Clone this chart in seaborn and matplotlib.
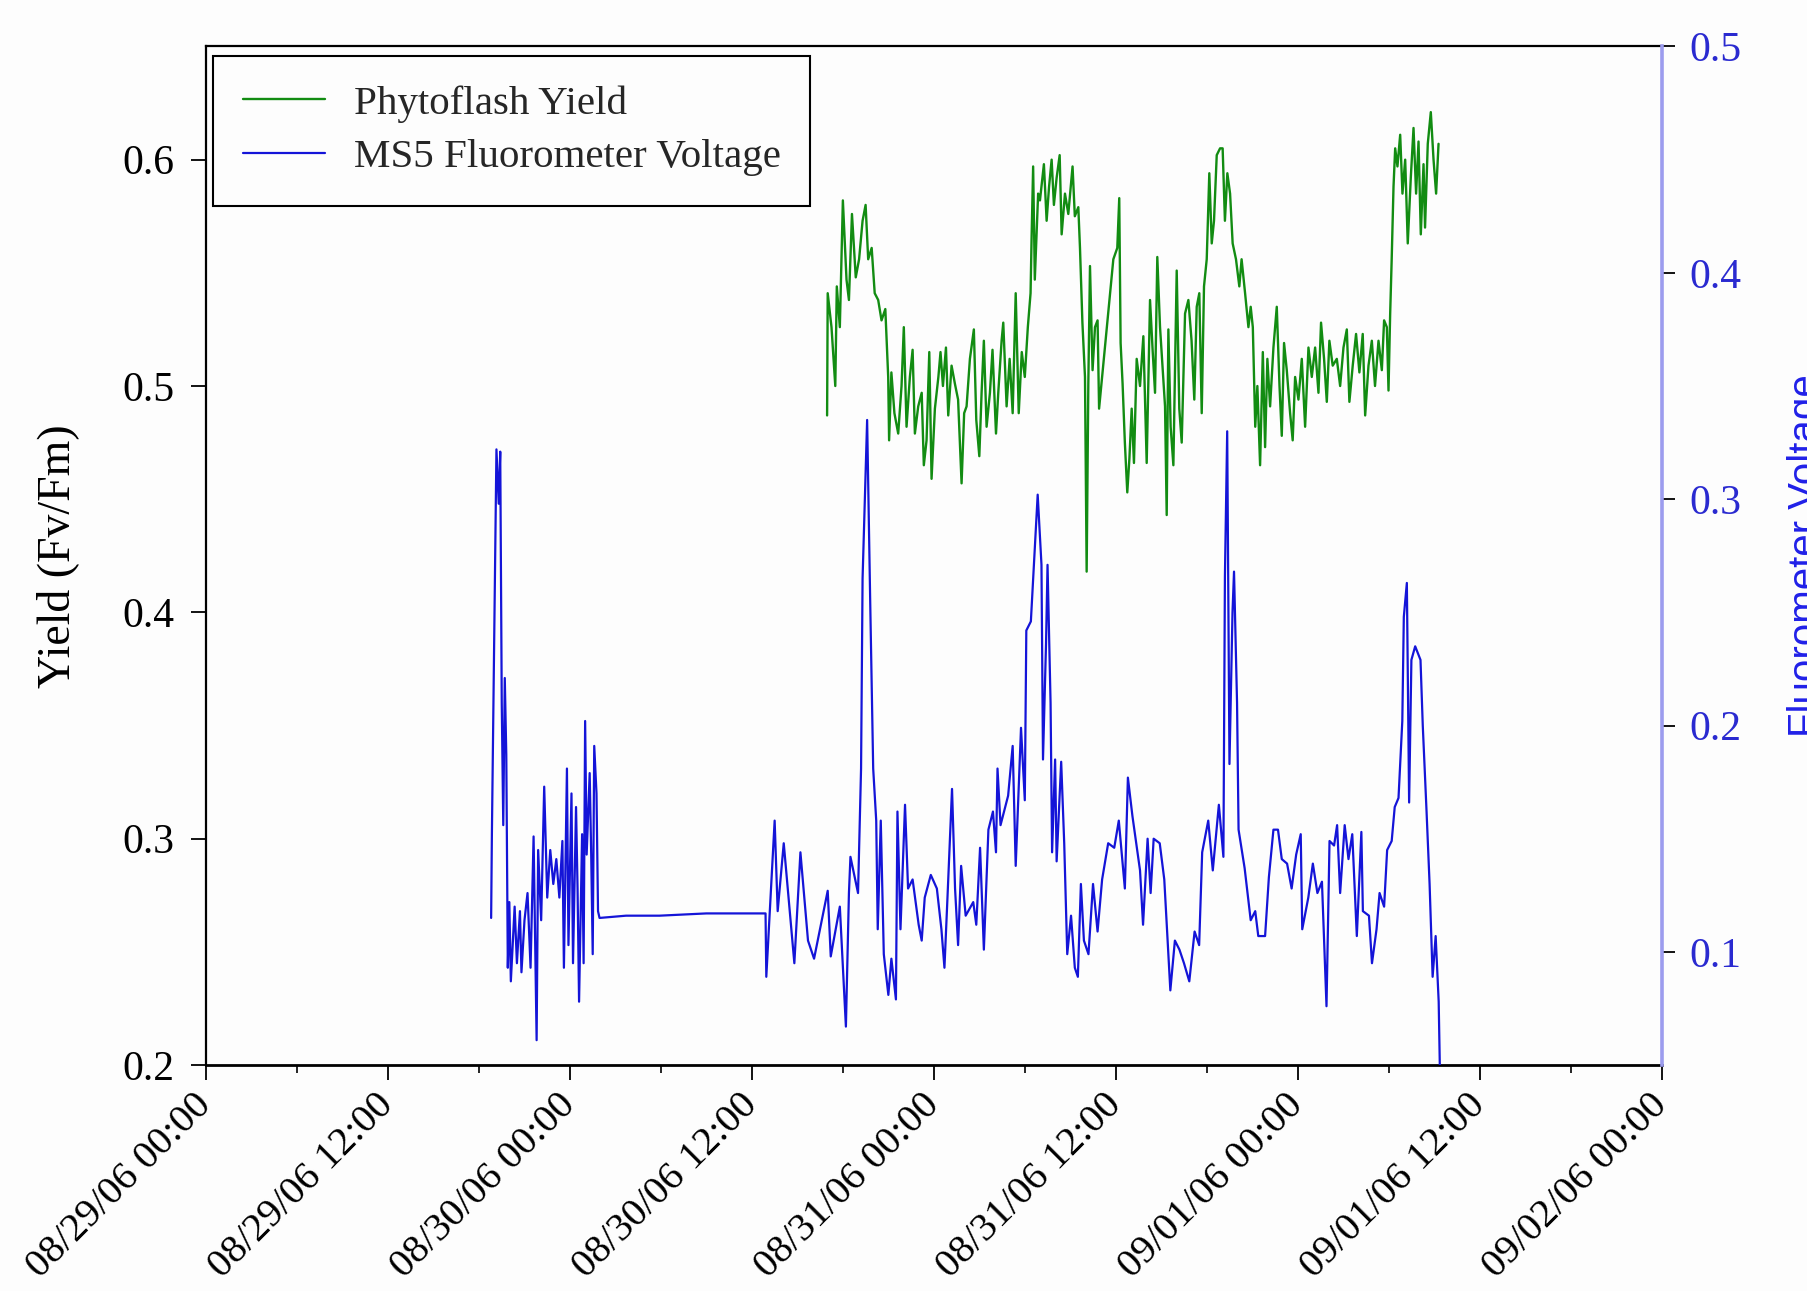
import numpy as np
import pandas as pd
import matplotlib
matplotlib.use("Agg")
import matplotlib.pyplot as plt
import matplotlib.dates as mdates
import seaborn as sns

# ---------------- data (hours after 08/29/06 00:00) ----------------
yield_hours = [
    40.96, 41.00, 41.25, 41.50, 41.60, 41.80, 42.00, 42.24, 42.40, 42.60, 42.85, 43.07,
    43.30, 43.50, 43.67, 43.90, 44.10, 44.33, 44.55, 44.80, 44.99, 45.05, 45.20, 45.40,
    45.65, 45.87, 46.02, 46.20, 46.42, 46.60, 46.75, 46.97, 47.20, 47.34, 47.52, 47.70,
    47.85, 48.07, 48.30, 48.44, 48.60, 48.80, 48.95, 49.17, 49.39, 49.60, 49.83, 50.00,
    50.16, 50.38, 50.64, 50.80, 51.00, 51.15, 51.30, 51.48, 51.70, 51.87, 52.10, 52.25,
    52.47, 52.58, 52.80, 53.00, 53.20, 53.40, 53.60, 53.80, 54.00, 54.20, 54.38, 54.45,
    54.55, 54.66, 54.88, 55.00, 55.26, 55.44, 55.60, 55.77, 55.92, 56.10, 56.30, 56.43,
    56.65, 56.87, 57.15, 57.30, 57.53, 57.64, 57.80, 57.97, 58.08, 58.19, 58.30, 58.47,
    58.63, 58.80, 58.90, 59.84, 60.10, 60.23, 60.32, 60.45, 60.60, 60.76, 60.90, 61.05,
    61.20, 61.38, 61.60, 61.82, 62.04, 62.26, 62.43, 62.59, 62.74, 62.92, 63.10, 63.25,
    63.36, 63.47, 63.62, 63.80, 64.02, 64.19, 64.35, 64.57, 64.79, 65.00, 65.18, 65.34,
    65.51, 65.67, 65.82, 66.00, 66.17, 66.33, 66.48, 66.66, 66.88, 67.05, 67.20, 67.36,
    67.54, 67.71, 67.93, 68.15, 68.30, 68.53, 68.75, 68.90, 69.04, 69.20, 69.34, 69.52,
    69.70, 69.85, 70.00, 70.18, 70.40, 70.62, 70.80, 70.95, 71.10, 71.28, 71.50, 71.67,
    71.83, 72.05, 72.27, 72.49, 72.71, 72.93, 73.15, 73.37, 73.54, 73.74, 73.92, 74.09,
    74.31, 74.58, 74.80, 75.02, 75.24, 75.41, 75.63, 75.85, 76.07, 76.29, 76.45, 76.67,
    76.89, 77.10, 77.33, 77.55, 77.70, 77.88, 77.99, 78.10, 78.20, 78.32, 78.43, 78.58,
    78.76, 78.91, 79.09, 79.26, 79.46, 79.64, 79.81, 79.97, 80.12, 80.30, 80.40, 80.58,
    80.78, 80.96, 81.13, 81.29,
]
yield_values = [
    0.487, 0.541, 0.526, 0.500, 0.544, 0.526, 0.582, 0.547, 0.538, 0.576, 0.548, 0.556,
    0.573, 0.580, 0.556, 0.561, 0.541, 0.538, 0.529, 0.534, 0.504, 0.476, 0.506, 0.488,
    0.479, 0.500, 0.526, 0.482, 0.504, 0.516, 0.479, 0.491, 0.497, 0.465, 0.476, 0.515,
    0.459, 0.490, 0.504, 0.515, 0.500, 0.517, 0.487, 0.509, 0.501, 0.494, 0.457, 0.488,
    0.491, 0.512, 0.525, 0.485, 0.469, 0.497, 0.520, 0.482, 0.497, 0.516, 0.479, 0.497,
    0.520, 0.528, 0.491, 0.512, 0.488, 0.541, 0.488, 0.515, 0.504, 0.526, 0.541, 0.566,
    0.597, 0.547, 0.585, 0.582, 0.598, 0.573, 0.588, 0.600, 0.580, 0.592, 0.602, 0.567,
    0.585, 0.576, 0.597, 0.575, 0.579, 0.561, 0.528, 0.504, 0.418, 0.501, 0.553, 0.507,
    0.526, 0.529, 0.490, 0.556, 0.561, 0.583, 0.519, 0.501, 0.475, 0.453, 0.468, 0.490,
    0.466, 0.512, 0.500, 0.522, 0.466, 0.538, 0.516, 0.497, 0.557, 0.526, 0.507, 0.491,
    0.443, 0.525, 0.482, 0.465, 0.551, 0.490, 0.475, 0.532, 0.538, 0.520, 0.494, 0.535,
    0.541, 0.488, 0.544, 0.556, 0.594, 0.563, 0.573, 0.602, 0.605, 0.605, 0.573, 0.594,
    0.585, 0.563, 0.556, 0.544, 0.556, 0.541, 0.526, 0.535, 0.526, 0.482, 0.500, 0.465,
    0.515, 0.473, 0.512, 0.491, 0.517, 0.535, 0.500, 0.478, 0.519, 0.507, 0.488, 0.476,
    0.504, 0.494, 0.512, 0.482, 0.517, 0.504, 0.517, 0.497, 0.528, 0.512, 0.493, 0.520,
    0.509, 0.512, 0.500, 0.517, 0.525, 0.493, 0.509, 0.523, 0.506, 0.523, 0.487, 0.509,
    0.520, 0.500, 0.520, 0.507, 0.529, 0.526, 0.498, 0.532, 0.556, 0.588, 0.605, 0.597,
    0.611, 0.585, 0.600, 0.563, 0.592, 0.614, 0.585, 0.608, 0.567, 0.598, 0.570, 0.607,
    0.621, 0.600, 0.585, 0.607,
]

volt_hours = [
    18.80, 18.85, 19.00, 19.15, 19.30, 19.40, 19.50, 19.60, 19.70, 19.80, 19.90, 20.00,
    20.10, 20.35, 20.50, 20.70, 20.80, 21.00, 21.20, 21.40, 21.60, 21.80, 21.90, 22.10,
    22.30, 22.50, 22.70, 22.90, 23.10, 23.30, 23.50, 23.60, 23.80, 23.90, 24.10, 24.20,
    24.40, 24.50, 24.60, 24.80, 24.90, 25.00, 25.10, 25.30, 25.40, 25.50, 25.60, 25.75,
    25.85, 25.95, 27.70, 29.90, 33.00, 36.90, 36.95, 37.50, 37.70, 38.10, 38.80, 39.20,
    39.70, 40.10, 41.00, 41.20, 41.80, 42.20, 42.40, 42.50, 43.00, 43.20, 43.30, 43.60,
    43.80, 44.00, 44.20, 44.30, 44.50, 44.70, 45.00, 45.20, 45.50, 45.60, 45.80, 46.10,
    46.30, 46.60, 47.00, 47.20, 47.40, 47.80, 48.20, 48.50, 48.70, 48.90, 49.20, 49.40,
    49.60, 49.80, 50.10, 50.60, 50.80, 51.05, 51.30, 51.60, 51.90, 52.10, 52.20, 52.40,
    52.90, 53.20, 53.40, 53.75, 54.00, 54.10, 54.40, 54.60, 54.85, 55.10, 55.20, 55.40,
    55.50, 55.70, 55.80, 56.00, 56.10, 56.40, 56.60, 56.80, 57.05, 57.30, 57.50, 57.70,
    57.90, 58.20, 58.50, 58.80, 59.10, 59.50, 59.90, 60.20, 60.60, 60.80, 61.10, 61.60,
    61.80, 62.10, 62.30, 62.50, 62.90, 63.20, 63.60, 63.90, 64.20, 64.50, 64.85, 65.20,
    65.50, 65.70, 66.10, 66.40, 66.80, 67.10, 67.20, 67.35, 67.50, 67.70, 67.80, 68.00,
    68.10, 68.50, 68.90, 69.20, 69.40, 69.85, 70.10, 70.40, 70.70, 70.95, 71.30, 71.60,
    71.90, 72.20, 72.30, 72.70, 73.00, 73.30, 73.60, 73.80, 73.90, 74.10, 74.40, 74.60,
    74.80, 75.10, 75.35, 75.60, 75.90, 76.20, 76.30, 76.70, 76.90, 77.20, 77.40, 77.70,
    77.90, 78.20, 78.40, 78.65, 78.90, 79.00, 79.20, 79.35, 79.50, 79.75, 80.10, 80.25,
    80.50, 80.70, 80.90, 81.10, 81.30, 81.40,
]
volt_values = [
    0.115, 0.152, 0.235, 0.322, 0.298, 0.321, 0.210, 0.156, 0.221, 0.187, 0.093, 0.122,
    0.087, 0.120, 0.095, 0.118, 0.091, 0.114, 0.126, 0.093, 0.151, 0.061, 0.145, 0.114,
    0.173, 0.124, 0.145, 0.130, 0.141, 0.124, 0.149, 0.093, 0.181, 0.103, 0.170, 0.095,
    0.164, 0.128, 0.078, 0.152, 0.095, 0.202, 0.143, 0.179, 0.143, 0.099, 0.191, 0.170,
    0.118, 0.115, 0.116, 0.116, 0.117, 0.117, 0.089, 0.158, 0.118, 0.148, 0.095, 0.144,
    0.105, 0.097, 0.127, 0.098, 0.120, 0.067, 0.126, 0.142, 0.126, 0.181, 0.265, 0.335,
    0.256, 0.181, 0.158, 0.110, 0.158, 0.099, 0.081, 0.097, 0.079, 0.162, 0.110, 0.165,
    0.128, 0.132, 0.112, 0.105, 0.124, 0.134, 0.128, 0.110, 0.093, 0.124, 0.172, 0.128,
    0.103, 0.138, 0.116, 0.122, 0.112, 0.146, 0.101, 0.154, 0.162, 0.144, 0.181, 0.156,
    0.169, 0.191, 0.138, 0.199, 0.167, 0.242, 0.246, 0.271, 0.302, 0.271, 0.185, 0.236,
    0.271, 0.210, 0.144, 0.185, 0.140, 0.184, 0.148, 0.099, 0.116, 0.093, 0.089, 0.130,
    0.105, 0.099, 0.130, 0.109, 0.132, 0.148, 0.146, 0.158, 0.128, 0.177, 0.160, 0.136,
    0.112, 0.150, 0.126, 0.150, 0.148, 0.132, 0.083, 0.105, 0.101, 0.095, 0.087, 0.109,
    0.103, 0.144, 0.158, 0.136, 0.165, 0.142, 0.266, 0.330, 0.183, 0.250, 0.268, 0.210,
    0.154, 0.137, 0.114, 0.118, 0.107, 0.107, 0.133, 0.154, 0.154, 0.141, 0.139, 0.128,
    0.143, 0.152, 0.110, 0.124, 0.139, 0.126, 0.131, 0.095, 0.076, 0.149, 0.147, 0.156,
    0.126, 0.156, 0.141, 0.152, 0.107, 0.153, 0.118, 0.116, 0.095, 0.110, 0.126, 0.120,
    0.145, 0.149, 0.164, 0.168, 0.202, 0.248, 0.263, 0.166, 0.229, 0.235, 0.229, 0.200,
    0.162, 0.130, 0.089, 0.107, 0.078, 0.040,
]

series_labels = ["Phytoflash Yield", "MS5 Fluorometer Voltage"]
left_label = "Yield (Fv/Fm)"
right_label = "Fluorometer Voltage"
left_ticks = [0.2, 0.3, 0.4, 0.5, 0.6]
right_ticks = [0.1, 0.2, 0.3, 0.4, 0.5]

# ---------------- styling ----------------
GREEN = "#128c12"
BLUE = "#1414d8"
BG = "#fdfdfd"

sns.set_theme(style="white")
plt.rcParams["font.family"] = ["Liberation Serif", "DejaVu Serif"]

t0 = pd.Timestamp("2006-08-29 00:00")
t1 = pd.Timestamp("2006-09-02 00:00")
df_y = pd.DataFrame({"time": t0 + pd.to_timedelta(yield_hours, unit="h"),
                     "value": yield_values})
df_v = pd.DataFrame({"time": t0 + pd.to_timedelta(volt_hours, unit="h"),
                     "value": volt_values})

fig = plt.figure(figsize=(18.08, 12.91), dpi=100, facecolor=BG)
ax = fig.add_axes([0.114, 0.175, 0.805, 0.789])
ax.set_facecolor(BG)
ax2 = ax.twinx()

sns.lineplot(data=df_y, x="time", y="value", ax=ax, color=GREEN, linewidth=1.7,
             estimator=None, sort=False, label=series_labels[0], legend=False)
sns.lineplot(data=df_v, x="time", y="value", ax=ax2, color=BLUE, linewidth=1.6,
             estimator=None, sort=False, label=series_labels[1], legend=False)

ax.set_xlim(t0, t1)
ax.set_ylim(0.2, 0.65)
ax2.set_ylim(0.05, 0.5)
ax.set_yticks(left_ticks)
ax.set_yticklabels([f"{v:.1f}" for v in left_ticks])
ax2.set_yticks(right_ticks)
ax2.set_yticklabels([f"{v:.1f}" for v in right_ticks])

ax.xaxis.set_major_locator(mdates.HourLocator(byhour=[0, 12]))
ax.xaxis.set_minor_locator(mdates.HourLocator(byhour=[6, 18]))
ax.xaxis.set_major_formatter(mdates.DateFormatter("%m/%d/%y %H:%M"))

ax.set_xlabel("")
ax.set_ylabel(left_label, fontsize=33, color="black")
ax.yaxis.set_label_coords(-0.087, 0.5)
ax2.set_ylabel(right_label, fontsize=29, color="#2020e8",
               family=["Liberation Sans", "DejaVu Sans"])
ax2.yaxis.set_label_coords(1.086, 0.5)

ax.tick_params(axis="x", which="major", bottom=True, direction="out", length=11,
               width=1.3, color="black", labelsize=29, labelcolor="black", pad=14)
ax.tick_params(axis="x", which="minor", bottom=True, direction="out", length=6,
               width=1.2, color="black")
ax.tick_params(axis="y", which="major", left=True, right=False, direction="out",
               length=11, width=1.3, color="black", labelsize=30, labelcolor="black", pad=12)
ax2.tick_params(axis="y", which="major", right=True, left=False, direction="out",
                length=9, width=1.3, color="black", labelsize=30, labelcolor="#2a2ad0", pad=11)

for lab in ax.get_xticklabels():
    lab.set_rotation(45)
    lab.set_ha("right")
    lab.set_va("center")
    lab.set_rotation_mode("anchor")

for side in ["left", "top", "bottom"]:
    ax.spines[side].set_visible(True)
    ax.spines[side].set_color("black")
    ax.spines[side].set_linewidth(1.6)
ax.spines["bottom"].set_linewidth(2.0)
ax.spines["right"].set_visible(False)
for side in ["left", "top", "bottom"]:
    ax2.spines[side].set_visible(False)
ax2.spines["right"].set_visible(True)
ax2.spines["right"].set_color("#9c9cee")
ax2.spines["right"].set_linewidth(2.6)

h1, l1 = ax.get_legend_handles_labels()
h2, l2 = ax2.get_legend_handles_labels()
leg = ax2.legend(h1 + h2, l1 + l2, loc="upper left", bbox_to_anchor=(0.005, 0.991),
                 borderaxespad=0, fancybox=False, edgecolor="black", facecolor=BG,
                 framealpha=1, fontsize=29.5, handlelength=2.0, handletextpad=0.7,
                 borderpad=0.72, labelspacing=0.38)
leg.get_frame().set_linewidth(1.5)

fig.savefig("out.png", dpi=100, facecolor=BG)
